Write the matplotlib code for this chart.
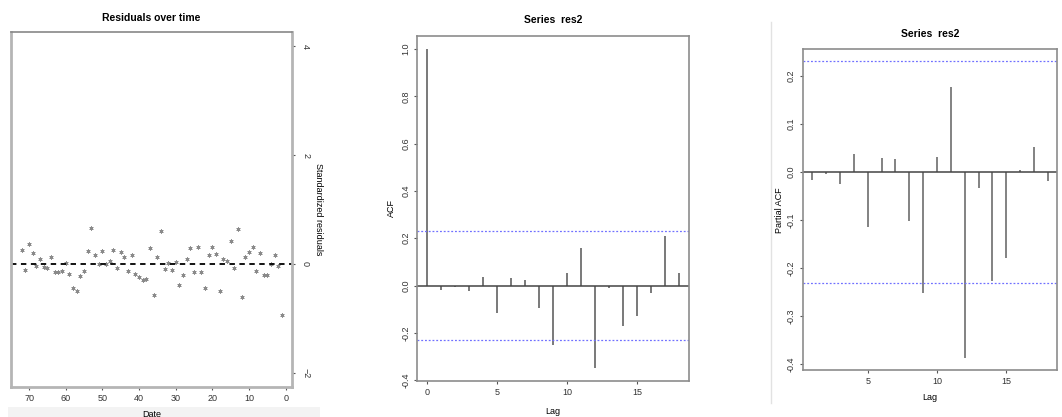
import matplotlib
matplotlib.use("Agg")
import matplotlib.pyplot as plt
from matplotlib.lines import Line2D
from matplotlib.patches import Rectangle

plt.rcParams['font.family'] = ['Liberation Sans', 'DejaVu Sans']

# residuals over time (time index, residual)
time_idx = list(range(72, 0, -1))
residuals = [0.26, -0.11, 0.36, 0.20, -0.03, 0.09, -0.05, -0.08, 0.135, -0.14,
             -0.15, -0.13, 0.02, -0.19, -0.44, -0.50, -0.22, -0.12, 0.23, 0.67,
             0.16, 0.0, 0.23, 0.0, 0.055, 0.25, -0.08, 0.22, 0.13, -0.13,
             0.16, -0.19, -0.24, -0.30, -0.27, 0.30, -0.57, 0.12, 0.60, -0.10,
             0.02, -0.11, 0.04, -0.38, -0.21, 0.10, 0.29, -0.15, 0.32, -0.15,
             -0.44, 0.16, 0.32, 0.18, -0.50, 0.10, 0.05, 0.43, -0.08, 0.65,
             -0.60, 0.12, 0.22, 0.31, -0.12, 0.21, -0.21, -0.20, 0.0, 0.16,
             -0.03, -0.94]

# ACF of res2, lags 0..18
acf_lags = list(range(0, 19))
acf_vals = [1.0, -0.017, -0.006, -0.024, 0.038, -0.117, 0.032, 0.025, -0.096, -0.253,
            0.055, 0.160, -0.349, -0.011, -0.172, -0.127, -0.031, 0.211, 0.055]

# PACF of res2, lags 1..18
pacf_lags = list(range(1, 19))
pacf_vals = [-0.017, -0.004, -0.024, 0.037, -0.114, 0.029, 0.027, -0.101, -0.251, 0.032,
             0.177, -0.387, -0.033, -0.227, -0.179, 0.005, 0.053, -0.019]

conf = 0.231
series_title = 'Series  res2'

fig = plt.figure(figsize=(10.62, 4.17), dpi=100)

tick_fs = 6.5
lab_fs = 6.5
title_fs = 7.5
frame_col = '#8c8c8c'


def r_style(ax):
    for s in ax.spines.values():
        s.set_color(frame_col)
        s.set_linewidth(1.2)
    ax.tick_params(labelsize=tick_fs, length=2.5, width=0.8, pad=2.5,
                   color='#555555', labelcolor='#333333')


# ---- panel 1: residuals over time (mirrored layout: y axis on the right)
ax1 = fig.add_axes([0.0104, 0.072, 0.2646, 0.851])
ax1.plot(time_idx, residuals, linestyle='none', marker=(6, 2, 0), markersize=3,
         color='#8a8a8a', markeredgewidth=0.55)
ax1.axhline(0, color='black', linestyle='--', linewidth=1.3, dashes=(3, 2.5))
ax1.set_xlim(74.9, -1.7)
ax1.set_ylim(-2.26, 4.26)
ax1.set_xticks([70, 60, 50, 40, 30, 20, 10, 0])
ax1.set_yticks([-2, 0, 2, 4])
ax1.yaxis.tick_right()
ax1.yaxis.set_label_position('right')
for lbl in ax1.get_yticklabels():
    lbl.set_rotation(-90)
    lbl.set_va('center')
r_style(ax1)
ax1.tick_params(axis='y', pad=4)
for side in ('left', 'right', 'bottom'):
    ax1.spines[side].set_color('#b5b5b5')
    ax1.spines[side].set_linewidth(2)
ax1.spines['top'].set_color('#888888')
ax1.set_title('Residuals over time', fontsize=title_fs, fontweight='bold', pad=8)
ax1.set_xlabel('Date', fontsize=lab_fs, labelpad=5)
ax1.set_ylabel('Standardized residuals', fontsize=lab_fs, rotation=-90, labelpad=9)

# ---- panel 2: ACF
ax2 = fig.add_axes([0.393, 0.0863, 0.256, 0.8277])
ax2.vlines(acf_lags, 0, acf_vals, color='#555555', linewidth=1.1)
ax2.axhline(0, color='#444444', linewidth=1.1)
ax2.axhline(conf, color='#7070ff', linewidth=0.9, linestyle=(0, (1.5, 1.5)))
ax2.axhline(-conf, color='#7070ff', linewidth=0.9, linestyle=(0, (1.5, 1.5)))
ax2.set_xlim(-0.72, 18.72)
ax2.set_ylim(-0.404, 1.056)
ax2.set_xticks([0, 5, 10, 15])
ax2.set_yticks([-0.4, -0.2, 0.0, 0.2, 0.4, 0.6, 0.8, 1.0])
ax2.set_yticklabels(['-0.4', '-0.2', '0.0', '0.2', '0.4', '0.6', '0.8', '1.0'],
                    rotation=90, va='center')
r_style(ax2)
ax2.set_title(series_title, fontsize=title_fs, fontweight='bold', pad=9)
ax2.set_xlabel('Lag', fontsize=lab_fs, labelpad=7)
ax2.set_ylabel('ACF', fontsize=lab_fs, labelpad=4)

# ---- panel 3: PACF
ax3 = fig.add_axes([0.756, 0.112, 0.2396, 0.770])
ax3.vlines(pacf_lags, 0, pacf_vals, color='#606060', linewidth=1.1)
ax3.axhline(0, color='#444444', linewidth=1.1)
ax3.axhline(conf, color='#7070ff', linewidth=0.9, linestyle=(0, (1.5, 1.5)))
ax3.axhline(-conf, color='#7070ff', linewidth=0.9, linestyle=(0, (1.5, 1.5)))
ax3.set_xlim(0.32, 18.68)
ax3.set_ylim(-0.413, 0.256)
ax3.set_xticks([5, 10, 15])
ax3.set_yticks([-0.4, -0.3, -0.2, -0.1, 0.0, 0.1, 0.2])
ax3.set_yticklabels(['-0.4', '-0.3', '-0.2', '-0.1', '0.0', '0.1', '0.2'],
                    rotation=90, va='center')
r_style(ax3)
ax3.set_title(series_title, fontsize=title_fs, fontweight='bold', pad=9)
ax3.set_xlabel('Lag', fontsize=lab_fs, labelpad=5)
ax3.set_ylabel('Partial ACF', fontsize=lab_fs, labelpad=2)

# faint screenshot borders
fig.add_artist(Line2D([771 / 1062, 771 / 1062], [1 - 22 / 417, 1 - 403 / 417],
                      transform=fig.transFigure, color='#e2e2e2', linewidth=1, zorder=-1))
fig.add_artist(Rectangle((8 / 1062, 0), 312 / 1062, 10 / 417, transform=fig.transFigure,
                         facecolor='#f3f3f3', edgecolor='none', zorder=-1))

fig.savefig('out.png', dpi=100)
